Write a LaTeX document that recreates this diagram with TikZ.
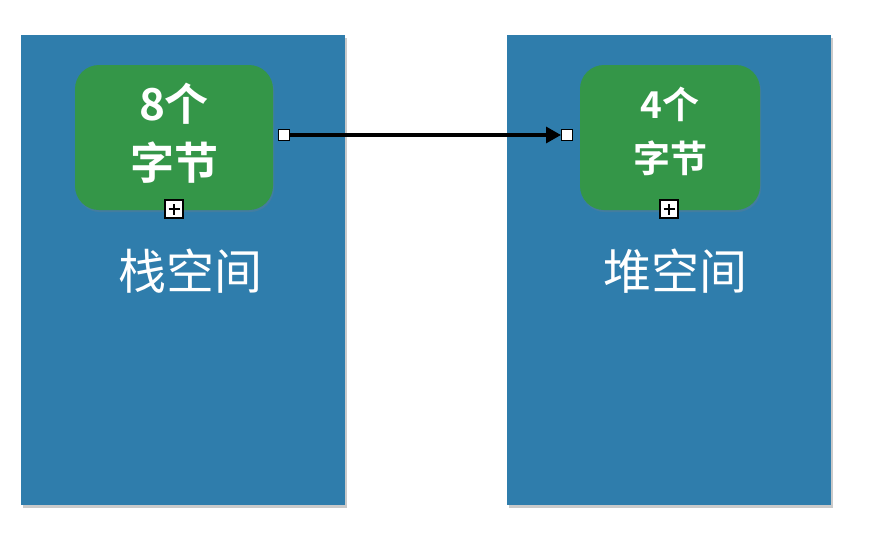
\documentclass[tikz,border=0pt]{standalone}
\usepackage{fontspec}
\newfontfamily\cjk{Noto Sans CJK SC}
\newfontfamily\cjkb{Noto Sans CJK SC Bold}
\usetikzlibrary{shadows,arrows.meta}
\definecolor{panelblue}{RGB}{47,125,172}
\definecolor{boxgreen}{RGB}{52,150,72}
\tikzset{
  panel/.style={fill=panelblue, minimum width=324pt, minimum height=470pt, inner sep=0pt,
    drop shadow={shadow xshift=2pt, shadow yshift=-3pt, opacity=0.35, fill=black!60}},
  gbox/.style={fill=boxgreen, rounded corners=24pt, inner sep=0pt, text=white, align=center,
    drop shadow={shadow xshift=1pt, shadow yshift=-2pt, opacity=0.25}},
  handle/.style={draw=black, fill=white, line width=1pt, minimum size=11pt, inner sep=0pt},
  plusbox/.style={draw=black, fill=white, line width=1.4pt, minimum size=18pt, inner sep=0pt,
    path picture={\draw[line width=1.5pt] ([xshift=-5.5pt]path picture bounding box.center) -- ([xshift=5.5pt]path picture bounding box.center);
                  \draw[line width=1.5pt] ([yshift=-5.5pt]path picture bounding box.center) -- ([yshift=5.5pt]path picture bounding box.center);}},
  lbl/.style={text=white, font=\cjk\fontsize{48}{54}\selectfont, inner sep=0pt},
  conn/.style={line width=3.2pt, -{Triangle[length=15pt,width=16pt]}}
}
\begin{document}
\begin{tikzpicture}[x=1pt,y=-1pt]
\useasboundingbox (0,0) rectangle (872,546);
\node[panel] (p1) at (183,270) {};
\node[panel] (p2) at (669,270) {};
\node[gbox, minimum width=198pt, minimum height=145pt, font=\cjkb\fontsize{44}{59}\selectfont] (b1) at (174,137.5) {8个\\字节\rule[-12pt]{0pt}{0pt}};
\node[gbox, minimum width=180pt, minimum height=145pt, font=\cjkb\fontsize{37}{54}\selectfont] (b2) at (670,137.5) {4个\\字节\rule[-16pt]{0pt}{0pt}};
\node[lbl] (l1) at (190,271) {栈空间};
\node[lbl] (l2) at (675,271) {堆空间};
\node[handle] (h1) at (284,135) {};
\node[handle] (h2) at (567,135) {};
\node[plusbox] (x1) at (174,209) {};
\node[plusbox] (x2) at (669,209) {};
\draw[conn] (h1.east) -- (h2.west);
\end{tikzpicture}
\end{document}
